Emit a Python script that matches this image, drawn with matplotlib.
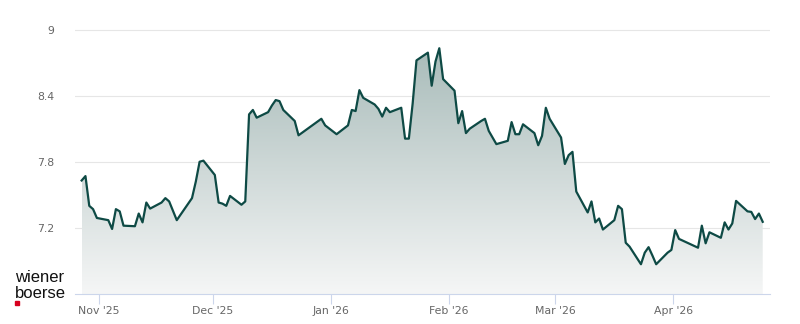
import numpy as np
import pandas as pd
import matplotlib
matplotlib.use('Agg')
import matplotlib.pyplot as plt
import matplotlib.dates as mdates
from matplotlib.colors import LinearSegmentedColormap
from matplotlib.patches import PathPatch, Rectangle


dates = [
    '2025-10-27', '2025-10-28', '2025-10-29', '2025-10-30', '2025-10-31',
    '2025-11-03', '2025-11-04', '2025-11-05', '2025-11-06', '2025-11-07',
    '2025-11-10', '2025-11-11', '2025-11-12', '2025-11-13', '2025-11-14',
    '2025-11-17', '2025-11-18', '2025-11-19', '2025-11-21',
    '2025-11-25', '2025-11-26', '2025-11-27', '2025-11-28',
    '2025-12-01', '2025-12-02', '2025-12-03', '2025-12-04', '2025-12-05',
    '2025-12-08', '2025-12-09', '2025-12-10', '2025-12-11', '2025-12-12',
    '2025-12-15', '2025-12-16', '2025-12-17', '2025-12-18', '2025-12-19',
    '2025-12-22', '2025-12-23', '2025-12-29', '2025-12-30',
    '2026-01-02', '2026-01-05', '2026-01-06', '2026-01-07', '2026-01-08',
    '2026-01-09', '2026-01-12', '2026-01-13', '2026-01-14', '2026-01-15',
    '2026-01-16', '2026-01-19', '2026-01-20', '2026-01-21', '2026-01-22',
    '2026-01-23', '2026-01-26', '2026-01-27', '2026-01-28', '2026-01-29',
    '2026-01-30', '2026-02-02', '2026-02-03', '2026-02-04', '2026-02-05',
    '2026-02-06', '2026-02-09', '2026-02-10', '2026-02-11', '2026-02-13',
    '2026-02-16', '2026-02-17', '2026-02-18', '2026-02-19', '2026-02-20',
    '2026-02-23', '2026-02-24', '2026-02-25', '2026-02-26', '2026-02-27',
    '2026-03-02', '2026-03-03', '2026-03-04', '2026-03-05', '2026-03-06',
    '2026-03-09', '2026-03-10', '2026-03-11', '2026-03-12', '2026-03-13',
    '2026-03-16', '2026-03-17', '2026-03-18', '2026-03-19', '2026-03-20',
    '2026-03-23', '2026-03-24', '2026-03-25', '2026-03-26', '2026-03-27',
    '2026-03-30', '2026-03-31', '2026-04-01', '2026-04-02',
    '2026-04-07', '2026-04-08', '2026-04-09', '2026-04-10',
    '2026-04-13', '2026-04-14', '2026-04-15', '2026-04-16', '2026-04-17',
    '2026-04-20', '2026-04-21', '2026-04-22', '2026-04-23', '2026-04-24',
]
prices = [
    7.63, 7.67, 7.40, 7.37, 7.29,
    7.27, 7.19, 7.37, 7.35, 7.22,
    7.215, 7.33, 7.25, 7.43, 7.375,
    7.43, 7.47, 7.44, 7.27,
    7.47, 7.62, 7.80, 7.81,
    7.68, 7.43, 7.42, 7.40, 7.49,
    7.41, 7.44, 8.23, 8.27, 8.20,
    8.25, 8.31, 8.36, 8.35, 8.27,
    8.17, 8.04, 8.19, 8.13,
    8.05, 8.13, 8.27, 8.26, 8.45,
    8.38, 8.32, 8.28, 8.21, 8.29,
    8.25, 8.29, 8.01, 8.01, 8.33,
    8.72, 8.79, 8.49, 8.71, 8.83,
    8.55, 8.445, 8.15, 8.26, 8.06,
    8.10, 8.17, 8.19, 8.08, 7.96,
    7.99, 8.16, 8.05, 8.05, 8.14,
    8.06, 7.95, 8.035, 8.29, 8.19,
    8.02, 7.78, 7.86, 7.89, 7.53,
    7.34, 7.44, 7.25, 7.285, 7.185,
    7.27, 7.40, 7.37, 7.065, 7.03,
    6.87, 6.975, 7.025, 6.95, 6.87,
    6.975, 7.00, 7.18, 7.10,
    7.02, 7.22, 7.06, 7.16,
    7.11, 7.25, 7.185, 7.24, 7.445,
    7.35, 7.345, 7.28, 7.33, 7.255,
]
yticks = [7.2, 7.8, 8.4, 9]
ytick_labels = ['7.2', '7.8', '8.4', '9']

LINE = '#0e4a45'
GREY = '#666666'
AXIS = '#ccd6eb'
YMIN, YMAX = 6.6, 9.0

x = mdates.date2num(pd.to_datetime(dates) + pd.Timedelta(hours=12))

fig = plt.figure(figsize=(8, 3.24), dpi=100)
ax = fig.add_axes([75/800, 30/324, 695/800, 264.7/324])

# gradient area under the line
area = ax.fill_between(x, prices, YMIN, color='none', lw=0)
clip = PathPatch(area.get_paths()[0], transform=ax.transData,
                 facecolor='none', edgecolor='none')
ax.add_patch(clip)
cmap = LinearSegmentedColormap.from_list('wb', ['#f5f6f6', '#a9bcba'])
grad = np.linspace(0, 1, 256).reshape(-1, 1)
im = ax.imshow(grad, cmap=cmap, aspect='auto', origin='lower',
               extent=[x[0], x[-1], YMIN, max(prices)], zorder=1)
im.set_clip_path(clip)

ax.plot(x, prices, color=LINE, lw=1.6, zorder=3, solid_joinstyle='round')

ax.set_xlim(mdates.date2num(pd.Timestamp('2025-10-25 18:00')),
            mdates.date2num(pd.Timestamp('2026-04-26 10:00')))
ax.set_ylim(YMIN, YMAX + 0.002)

ax.set_yticks(yticks)
ax.set_yticklabels(ytick_labels)
ax.yaxis.grid(True, color='#e6e6e6', lw=0.8, zorder=0)
ax.set_axisbelow(True)
ax.tick_params(axis='y', length=0, pad=15, labelcolor=GREY, labelsize=7.8)

ax.xaxis.set_major_locator(mdates.MonthLocator())
ax.xaxis.set_major_formatter(mdates.DateFormatter("%b '%y"))
ax.tick_params(axis='x', length=7.5, width=0.8, color=AXIS, pad=1.5,
               labelcolor=GREY, labelsize=7.8)

for s in ['top', 'right', 'left']:
    ax.spines[s].set_visible(False)
ax.spines['bottom'].set_color(AXIS)
ax.spines['bottom'].set_linewidth(0.8)

# logo
fig.text(15/800, 42/324, 'wiener', family='Liberation Sans', fontsize=12,
         color='#111111', va='baseline', ha='left')
fig.text(15/800, 26/324, 'boerse', family='Liberation Sans', fontsize=12,
         color='#111111', va='baseline', ha='left')
fig.patches.append(Rectangle((15/800, 19/324), 4/800, 4/324, color='#d7001e',
                             transform=fig.transFigure, figure=fig))

fig.savefig('out.png', dpi=100)
